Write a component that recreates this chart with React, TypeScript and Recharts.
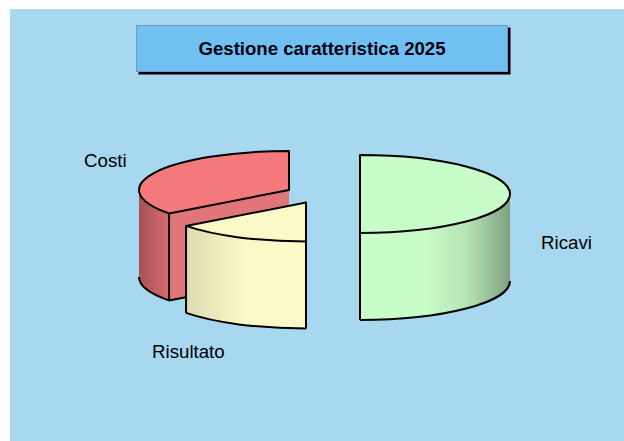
import React from 'react';
import { PieChart, Pie } from 'recharts';

const sliceNames = ['Costi', 'Risultato', 'Ricavi'];
const sliceValues = [70.5, 29.5, 100];
const titleText = 'Gestione caratteristica 2025';

const chartData = sliceNames.map((name, i) => ({ name, value: sliceValues[i] }));

const W = 624;
const H = 441;
const CX = 320;
const CY = 194;
const RX = 150;
const SQUASH = 0.26;
const DEPTH = 87;
const LINE = 2;

const explode: Record<string, [number, number]> = {
  Costi: [-31, -4],
  Risultato: [-14, 8.5],
  Ricavi: [40, 0],
};
const topColor: Record<string, string> = {
  Costi: '#f3797d',
  Risultato: '#fafac8',
  Ricavi: '#c8fcc8',
};
const faceColor: Record<string, string> = {
  Costi: '#e1757a',
  Risultato: '#fafac8',
  Ricavi: '#c8fcc8',
};
const labelPos: Record<string, [number, number]> = {
  Costi: [84, 167],
  Risultato: [152, 358],
  Ricavi: [541, 249],
};

function Wedge(props: any) {
  const { cx, cy, outerRadius, startAngle, endAngle, name } = props;
  const nm = name ?? props.payload?.name;
  const [dx, dy] = explode[nm] ?? [0, 0];
  const ox = cx + dx;
  const oy = cy + dy;
  const rx = outerRadius;
  const ry = outerRadius * SQUASH;
  const s = Math.min(startAngle, endAngle);
  const e = Math.max(startAngle, endAngle);
  const P = (a: number, d = 0): [number, number] => {
    const r = (a * Math.PI) / 180;
    return [ox + rx * Math.cos(r), oy - ry * Math.sin(r) + d];
  };
  const pt = (p: [number, number]) => `${p[0]} ${p[1]}`;
  const arc = (a: number, b: number) =>
    `A ${rx} ${ry} 0 ${b - a > 180 ? 1 : 0} 0 ${pt(P(b))}`;
  const arcLow = (a: number, b: number) =>
    `A ${rx} ${ry} 0 ${b - a > 180 ? 1 : 0} 0 ${pt(P(b, DEPTH))}`;
  const arcBack = (a: number, b: number) =>
    `A ${rx} ${ry} 0 ${a - b > 180 ? 1 : 0} 1 ${pt(P(b))}`;

  const sideS = Math.max(s, 180);
  const sideE = Math.min(e, 360);
  const hasSide = sideE > sideS;
  const gid = `shade-${nm}`;
  const sidePath = hasSide
    ? `M ${pt(P(sideS))} L ${pt(P(sideS, DEPTH))} ${arcLow(sideS, sideE)} L ${pt(P(sideE))} ${arcBack(sideE, sideS)} Z`
    : '';
  const showEndFace = Math.cos((e * Math.PI) / 180) < -1e-6;
  const black = '#000000';

  return (
    <g>
      <defs>
        <linearGradient id={gid} gradientUnits="userSpaceOnUse" x1={ox - rx} x2={ox + rx} y1={0} y2={0}>
          <stop offset="0" stopColor="#000" stopOpacity={0.32} />
          <stop offset="0.1" stopColor="#000" stopOpacity={0.12} />
          <stop offset="0.3" stopColor="#000" stopOpacity={0} />
          <stop offset="0.72" stopColor="#000" stopOpacity={0} />
          <stop offset="0.86" stopColor="#000" stopOpacity={0.1} />
          <stop offset="1" stopColor="#000" stopOpacity={0.36} />
        </linearGradient>
      </defs>
      {showEndFace && (
        <>
          <path
            d={`M ${ox} ${oy} L ${pt(P(e))} L ${pt(P(e, DEPTH))} L ${ox} ${oy + DEPTH} Z`}
            fill={faceColor[nm]}
            stroke="none"
          />
          <path
            d={`M ${pt(P(e, DEPTH))} L ${ox} ${oy + DEPTH}`}
            fill="none"
            stroke={black}
            strokeWidth={LINE}
          />
        </>
      )}
      {hasSide && (
        <>
          <path d={sidePath} fill={topColor[nm]} stroke="none" />
          <path d={sidePath} fill={`url(#${gid})`} stroke="none" />
          <path
            d={`M ${pt(P(sideS, DEPTH))} ${arcLow(sideS, sideE)}`}
            fill="none"
            stroke={black}
            strokeWidth={LINE}
          />
          {sideS > 180 && (
            <path d={`M ${pt(P(sideS))} L ${pt(P(sideS, DEPTH))}`} stroke={black} strokeWidth={LINE} />
          )}
          {sideE < 360 && (
            <path d={`M ${pt(P(sideE))} L ${pt(P(sideE, DEPTH))}`} stroke={black} strokeWidth={LINE} />
          )}
        </>
      )}
      <path
        d={`M ${ox} ${oy} L ${pt(P(s))} ${arc(s, e)} Z`}
        fill={topColor[nm]}
        stroke={black}
        strokeWidth={LINE}
        strokeLinejoin="round"
      />
    </g>
  );
}

function SliceLabel(props: any) {
  const nm = props.name ?? props.payload?.name;
  const [x, y] = labelPos[nm];
  return (
    <text x={x} y={y} fontFamily="'Liberation Sans', Arial, sans-serif" fontSize={18.7} fill="#000">
      {nm}
    </text>
  );
}

export default function App() {
  return (
    <div style={{ position: 'absolute', left: 0, top: 0, width: W, height: H, overflow: 'hidden', background: '#fff' }}>
      <div style={{ position: 'absolute', left: 10, top: 9, width: W - 10, height: H - 9, background: '#a8d7f0' }} />
      <div
        style={{
          position: 'absolute',
          left: 136,
          top: 25,
          width: 370,
          height: 45,
          boxSizing: 'content-box',
          background: '#70c1f1',
          border: '0.5px solid #6f9cbc',
          boxShadow: '2.5px 2.5px 0 #000010',
          display: 'flex',
          alignItems: 'center',
          justifyContent: 'center',
          fontFamily: "'Liberation Sans', Arial, sans-serif",
          fontWeight: 700,
          fontSize: 18.6,
          color: '#000010',
        }}
      >
        {titleText}
      </div>
      <div style={{ position: 'absolute', left: 0, top: 0 }}>
        <PieChart width={W} height={H} margin={{ top: 0, right: 0, bottom: 0, left: 0 }}>
          <Pie
            data={chartData}
            dataKey="value"
            nameKey="name"
            cx={CX}
            cy={CY}
            innerRadius={0}
            outerRadius={RX}
            startAngle={90}
            endAngle={450}
            stroke="none"
            isAnimationActive={false}
            shape={Wedge}
            label={SliceLabel}
            labelLine={false}
          />
        </PieChart>
      </div>
    </div>
  );
}
